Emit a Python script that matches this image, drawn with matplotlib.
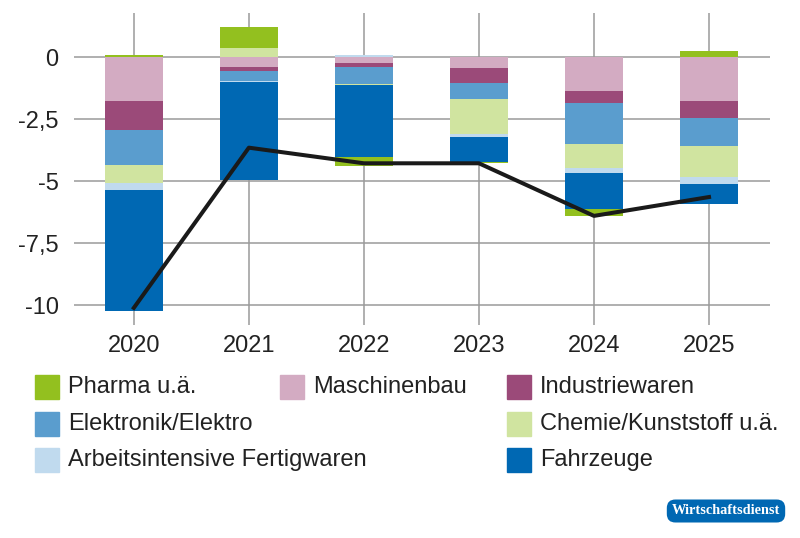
import numpy as np
import matplotlib.pyplot as plt
from matplotlib.patches import Rectangle

plt.rcParams['font.family'] = ['Liberation Sans', 'DejaVu Sans']

jahre = ['2020', '2021', '2022', '2023', '2024', '2025']

# Beiträge je Warengruppe (Prozentpunkte), gelesen aus der Grafik
maschinenbau = [-1.75, -0.39, -0.23, -0.44, -1.35, -1.76]
industriewaren = [-1.17, -0.15, -0.16, -0.59, -0.50, -0.69]
elektronik = [-1.42, -0.42, -0.68, -0.63, -1.64, -1.13]
chemie = [-0.73, 0.36, -0.04, -1.43, -0.97, -1.26]
arbeitsintensiv = [-0.27, -0.05, 0.08, -0.10, -0.21, -0.28]
fahrzeuge = [-4.88, -3.95, -2.89, -1.02, -1.44, -0.78]
pharma = [0.10, 0.87, -0.36, -0.06, -0.27, 0.25]

gesamt = [-10.1, -3.64, -4.27, -4.27, -6.39, -5.63]

reihen = [
    ('Maschinenbau', maschinenbau, '#d3abc2'),
    ('Industriewaren', industriewaren, '#9b4a79'),
    ('Elektronik/Elektro', elektronik, '#5a9dce'),
    ('Chemie/Kunststoff u.ä.', chemie, '#d0e4a0'),
    ('Arbeitsintensive Fertigwaren', arbeitsintensiv, '#c0daee'),
    ('Fahrzeuge', fahrzeuge, '#0068b3'),
    ('Pharma u.ä.', pharma, '#93c01f'),
]
farben = {name: c for name, _, c in reihen}

fig = plt.figure(figsize=(8, 5.38), dpi=100)
ax = fig.add_axes([74 / 800, 1 - 325 / 538, 696 / 800, 312 / 538])

x = np.arange(len(jahre))
pos = np.zeros(len(jahre))
neg = np.zeros(len(jahre))
for name, werte, farbe in reihen:
    werte = np.array(werte)
    unten = np.where(werte >= 0, pos, neg)
    ax.bar(x, werte, bottom=unten, width=0.5, color=farbe, zorder=2)
    pos = pos + np.clip(werte, 0, None)
    neg = neg + np.clip(werte, None, 0)

ax.plot(x, gesamt, color='#1a1a1a', linewidth=2.9, zorder=3)

ax.set_xlim(-0.52, 5.53)
ax.set_ylim(-10.79, 1.79)
ax.set_yticks([0, -2.5, -5, -7.5, -10])
ax.set_yticklabels(['0', '-2,5', '-5', '-7,5', '-10'])
ax.set_xticks(x)
ax.set_xticklabels(jahre)
ax.tick_params(length=0, labelsize=17, colors='#222222')
ax.tick_params(axis='y', pad=11)
ax.tick_params(axis='x', pad=7)
ax.grid(True, color='#9a9a9a', linewidth=1.1, zorder=0)
ax.set_axisbelow(True)
for s in ax.spines.values():
    s.set_visible(False)

# Legende in drei Spalten, zeilenweise
legende = [
    ['Pharma u.ä.', 'Maschinenbau', 'Industriewaren'],
    ['Elektronik/Elektro', None, 'Chemie/Kunststoff u.ä.'],
    ['Arbeitsintensive Fertigwaren', None, 'Fahrzeuge'],
]
spalten_x = [35, 280, 507]
zeilen_y = [387, 424, 460]
for zeile, yy in zip(legende, zeilen_y):
    for name, xx in zip(zeile, spalten_x):
        if name is None:
            continue
        fig.patches.append(Rectangle((xx / 800, 1 - (yy + 12) / 538), 24 / 800, 24 / 538,
                                     transform=fig.transFigure, color=farben[name]))
        fig.text((xx + 33) / 800, 1 - yy / 538, name, fontsize=17,
                 va='center', ha='left', color='#222222')

fig.text(726 / 800, 1 - 511 / 538, 'Wirtschaftsdienst', fontsize=10.3, color='white',
         family='Liberation Serif', fontweight='bold', ha='center', va='center',
         bbox=dict(boxstyle='round,pad=0.35,rounding_size=0.6', fc='#0068b3', ec='none'))

fig.savefig('out.png', dpi=100)
